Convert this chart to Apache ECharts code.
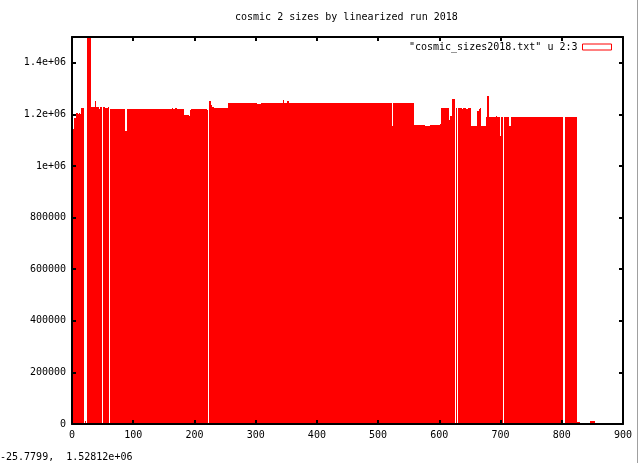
<!DOCTYPE html>
<html><head><meta charset="utf-8">
<script src="https://cdn.jsdelivr.net/npm/echarts@6/dist/echarts.min.js"></script>
<style>html,body{margin:0;padding:0;background:#fff}#c{width:639px;height:463px}</style>
</head><body><div id="c"></div>
<script>
const titleText = 'cosmic 2 sizes by linearized run 2018';
const seriesName = '"cosmic_sizes2018.txt" u 2:3';
const statusText = '-25.7799,  1.52812e+06';

// Runs of bars: start x, end x, size
const runStart = [1, 3, 7, 9, 11, 13, 15, 20.5, 24.5, 30.5, 37, 38.5, 44, 46, 51, 54, 59, 62, 86.5, 90, 163, 165, 168, 171, 183, 191, 193, 195, 220, 223.5, 227, 228, 232, 255, 302, 309, 345, 347, 351, 355, 377, 392, 523, 524.5, 558, 577, 585, 601, 603, 616, 618, 620, 626.5, 630.5, 637, 639, 643, 647, 652, 662, 665, 667, 668.5, 676, 678, 681, 693, 695, 699, 701, 705.5, 714, 717, 804.5, 825.5, 846];
const runEnd   = [3, 7, 9, 11, 13, 15, 19, 22.5, 30.5, 37, 38.5, 44, 46, 49, 54, 59, 60, 86.5, 90, 163, 165, 168, 171, 183, 191, 193, 195, 220, 221.5, 227, 228, 232, 255, 302, 309, 345, 347, 351, 355, 377, 392, 523, 524.5, 558, 577, 585, 601, 603, 616, 618, 620, 625, 629, 637, 639, 643, 647, 652, 662, 665, 667, 668.5, 676, 678, 681, 693, 695, 699, 701, 704, 714, 717, 802, 825.5, 830, 854];
const runSize  = [1145000, 1185000, 1206000, 1203000, 1206000, 1203000, 1226000, 10000, 1530000, 1230000, 1253000, 1230000, 1222000, 1230000, 1230000, 1225000, 1228000, 1222000, 1137000, 1222000, 1226000, 1222000, 1226000, 1222000, 1197000, 1193000, 1217000, 1222000, 1217000, 1253000, 1238000, 1230000, 1226000, 1245000, 1240000, 1245000, 1257000, 1245000, 1253000, 1245000, 1243000, 1245000, 1154000, 1245000, 1158000, 1155000, 1158000, 1162000, 1226000, 1180000, 1193000, 1261000, 1226000, 1226000, 1222000, 1226000, 1222000, 1226000, 1154000, 1215000, 1220000, 1226000, 1154000, 1189000, 1270000, 1188000, 1193000, 1188000, 1118000, 1188000, 1188000, 1154000, 1188000, 1188000, 6000, 10000];

const xTickValues = [0, 100, 200, 300, 400, 500, 600, 700, 800, 900];
const xTickLabels = ['0', '100', '200', '300', '400', '500', '600', '700', '800', '900'];
const yTickValues = [0, 200000, 400000, 600000, 800000, 1000000, 1200000, 1400000];
const yTickLabels = ['0', '200000', '400000', '600000', '800000', '1e+06', '1.2e+06', '1.4e+06'];

const FONT = 'DejaVu Sans Mono';
const runs = runStart.map((s, i) => [s, runEnd[i], runSize[i]]);

function labelFor(values, labels) {
  return function (v) {
    for (let i = 0; i < values.length; i++) if (Math.abs(values[i] - v) < 1e-6) return labels[i];
    return '';
  };
}

const axisCommon = {
  z: 10,
  axisLine: { show: true, onZero: false, lineStyle: { color: '#000', width: 2 } },
  axisTick: { show: true, inside: true, length: 4, lineStyle: { color: '#000', width: 2 } },
  splitLine: { show: false },
  minorTick: { show: false }
};

const chart = echarts.init(document.getElementById('c'), null, { renderer: 'canvas' });
chart.setOption({
  animation: false,
  backgroundColor: '#fff',
  title: {
    text: titleText, left: 235, top: 12, padding: 0,
    textStyle: { fontFamily: FONT, fontSize: 10, fontWeight: 'normal', color: '#000' }
  },
  legend: {
    right: 27, top: 42, padding: 0, align: 'right',
    itemWidth: 29, itemHeight: 6, icon: 'rect',
    itemStyle: { color: '#fff', borderColor: '#ff0000', borderWidth: 1 },
    textStyle: { fontFamily: FONT, fontSize: 10, color: '#000' },
    data: [{ name: seriesName }]
  },
  grid: { left: 72, right: 16, top: 37, bottom: 39, containLabel: false },
  xAxis: [
    Object.assign({}, axisCommon, {
      type: 'value', position: 'bottom', min: 0, max: 900, interval: 100,
      axisLabel: { color: '#000', fontFamily: FONT, fontSize: 10, margin: 6, formatter: labelFor(xTickValues, xTickLabels) }
    }),
    Object.assign({}, axisCommon, {
      type: 'value', position: 'top', min: 0, max: 900, interval: 100,
      axisLabel: { show: false }
    })
  ],
  yAxis: [
    Object.assign({}, axisCommon, {
      type: 'value', position: 'left', min: 0, max: 1500000, interval: 200000,
      axisLabel: { color: '#000', fontFamily: FONT, fontSize: 10, margin: 6, formatter: labelFor(yTickValues, yTickLabels) }
    }),
    Object.assign({}, axisCommon, {
      type: 'value', position: 'right', min: 0, max: 1500000, interval: 200000,
      axisLabel: { show: false }
    })
  ],
  graphic: [
    { type: 'text', left: 0, top: 452, style: { text: statusText, fontFamily: FONT, fontSize: 10, fill: '#000' } },
    { type: 'line', shape: { x1: 637.5, y1: 0, x2: 637.5, y2: 463 }, style: { stroke: '#a0a0a0', lineWidth: 1 } }
  ],
  series: [{
    name: seriesName,
    type: 'custom',
    xAxisIndex: 0, yAxisIndex: 0,
    itemStyle: { color: '#ff0000' },
    encode: { x: [0, 1], y: 2 },
    data: runs,
    renderItem: function (params, api) {
      const p0 = api.coord([api.value(0), 0]);
      const p1 = api.coord([api.value(1), api.value(2)]);
      const cs = params.coordSys;
      const x0 = Math.round(p0[0]), x1 = Math.round(p1[0]);
      const yb = Math.round(p0[1]), yt = Math.round(Math.max(p1[1], cs.y));
      if (x1 <= x0 || yb <= yt) return null;
      return {
        type: 'rect',
        shape: { x: x0, y: yt, width: x1 - x0, height: yb - yt },
        style: { fill: '#ff0000', stroke: null, lineWidth: 0 }
      };
    }
  }]
});
</script>
</body></html>
